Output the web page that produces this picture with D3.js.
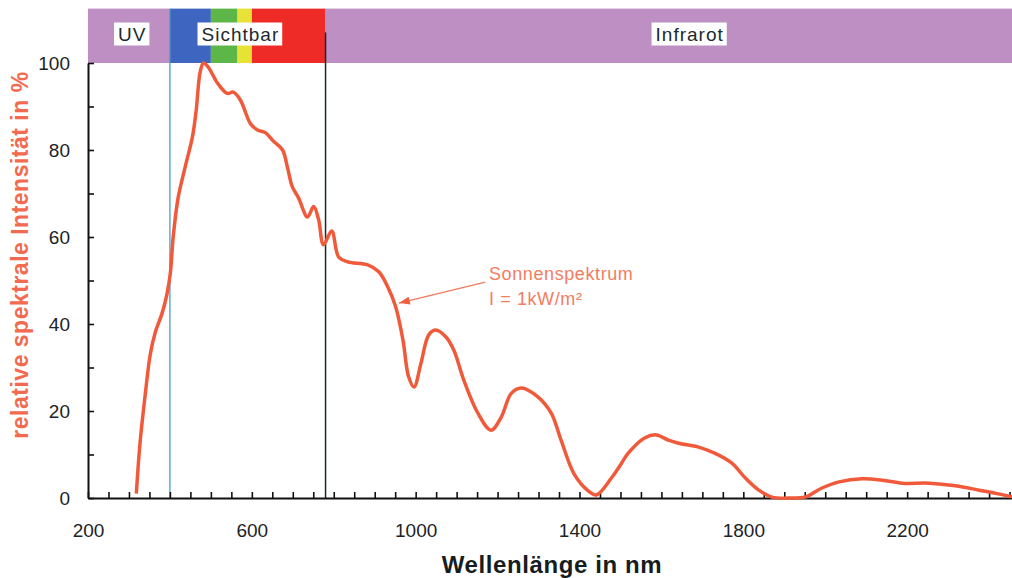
<!DOCTYPE html>
<html>
<head>
<meta charset="utf-8">
<script src="https://cdn.jsdelivr.net/npm/d3@7"></script>
<style>
  body { margin: 0; background: #fff; }
  text { font-family: "Liberation Sans", Arial, sans-serif; }
</style>
</head>
<body>
<div id="chart"></div>
<script>
// Sonnenspektrum
const wavelength = [318,327,340,352,364,381,393,401,408,420,437,455,464,474,482,494,516,540,555,572,
  597,614,633,653,675,687,699,714,736,751,763,775,795,812,834,883,910,932,951,969,
  983,996,1013,1032,1049,1074,1093,1118,1152,1184,1209,1233,1258,1299,1331,1355,1387,1422,1441,1478,
  1500,1519,1559,1588,1617,1642,1691,1730,1772,1803,1838,1870,1918,1950,1992,2034,2090,2139,2188,2254,
  2318,2376,2415,2456];
const intensity = [1,12.6,24,33,38,42.5,47,51.7,60,69,76,83,89,98,100,99,95.4,93,93.3,91.5,
  86,84.6,84,82,80,76,71.5,69,64.6,67,64,58.2,61.4,55.4,54.3,53.6,52,48.5,44,36.3,
  27.8,25.5,31,37.5,38.6,37,34,27,19.5,15.6,18.6,24,25.3,23.2,19.5,13.3,5.5,1.6,0.7,4.6,
  7.6,10.3,13.8,14.5,13.3,12.6,11.7,10.3,8,4.8,1.8,0.2,0,0.2,2.3,3.7,4.4,4.1,3.4,3.4,
  2.8,1.8,1.1,0.3];

const bandEdges = [200, 400, 500, 565, 600, 780, 2456];
const bandColors = ['#bd8fc3', '#3e66c0', '#5cb748', '#e6e236', '#ee2b27', '#bd8fc3'];
const regionLabels = ['UV', 'Sichtbar', 'Infrarot'];
const regionLabelAt = [308, 572, 1669];
const xTickLabels = [200, 600, 1000, 1400, 1800, 2200];
const yTickLabels = [0, 20, 40, 60, 80, 100];
const annotation = ['Sonnenspektrum', 'I = 1kW/m²'];

const w = 1012;
const h = 578;

const x = d3.scaleLinear().domain([200, 2456]).range([88, 1012]);
const y = d3.scaleLinear().domain([0, 100]).range([498, 63]);
const bandTop = 112.5;

const svg = d3.select('#chart')
  .append('svg')
  .attr('width', w)
  .attr('height', h);

// Farbband oben
svg.selectAll('rect.band')
  .data(bandColors)
  .enter()
  .append('rect')
  .attr('class', 'band')
  .attr('x', (d, i) => x(bandEdges[i]))
  .attr('y', y(bandTop))
  .attr('width', (d, i) => x(bandEdges[i + 1]) - x(bandEdges[i]))
  .attr('height', y(100) - y(bandTop))
  .attr('fill', d => d);

// Beschriftungen im Band
const lab = svg.selectAll('g.rlab')
  .data(regionLabels)
  .enter()
  .append('g')
  .attr('class', 'rlab')
  .attr('transform', (d, i) => `translate(${x(regionLabelAt[i])},${y(106.7)})`);

lab.append('text')
  .attr('text-anchor', 'middle')
  .attr('dy', '0.35em')
  .attr('font-size', 19)
  .attr('letter-spacing', 1)
  .attr('fill', '#1c2b2d')
  .text(d => d);

lab.each(function() {
  const g = d3.select(this);
  const bb = g.select('text').node().getBBox();
  g.insert('rect', 'text')
    .attr('x', bb.x - 4)
    .attr('y', bb.y - 1)
    .attr('width', bb.width + 7)
    .attr('height', bb.height + 2)
    .attr('fill', '#fff');
});

// Grenzlinien sichtbarer Bereich
svg.append('line')
  .attr('x1', x(400)).attr('x2', x(400))
  .attr('y1', y(bandTop)).attr('y2', y(0))
  .attr('stroke', '#4b9cc8')
  .attr('stroke-width', 1.3);

svg.append('line')
  .attr('x1', x(780)).attr('x2', x(780))
  .attr('y1', y(107)).attr('y2', y(0))
  .attr('stroke', '#1b2a2c')
  .attr('stroke-width', 1.5);

// Achsen
const xMinor = d3.axisBottom(x)
  .tickValues(d3.range(200, 2456, 50))
  .tickSizeInner(-6)
  .tickSizeOuter(0)
  .tickFormat('');

const gx = svg.append('g')
  .attr('transform', `translate(0,${y(0)})`)
  .call(xMinor);
gx.select('.domain').attr('stroke', '#111').attr('stroke-width', 2);
gx.selectAll('.tick line').attr('stroke', '#111').attr('stroke-width', 1.6);

const xLab = d3.axisBottom(x)
  .tickValues(xTickLabels)
  .tickSize(0)
  .tickPadding(26)
  .tickFormat(d3.format('d'));

const gxl = svg.append('g')
  .attr('transform', `translate(0,${y(0)})`)
  .call(xLab);
gxl.select('.domain').remove();
gxl.selectAll('text')
  .attr('font-size', 19)
  .attr('font-family', '"Liberation Sans", Arial, sans-serif')
  .attr('fill', '#1c2326');

const yMinor = d3.axisLeft(y)
  .tickValues(d3.range(0, 101, 10))
  .tickSizeInner(-6)
  .tickSizeOuter(0)
  .tickFormat('');

const gy = svg.append('g')
  .attr('transform', `translate(${x(200)},0)`)
  .call(yMinor);
gy.select('.domain').attr('stroke', '#111').attr('stroke-width', 2);
gy.selectAll('.tick line').attr('stroke', '#111').attr('stroke-width', 1.6);

const yLab = d3.axisLeft(y)
  .tickValues(yTickLabels)
  .tickSize(0)
  .tickPadding(18);

const gyl = svg.append('g')
  .attr('transform', `translate(${x(200)},0)`)
  .call(yLab);
gyl.select('.domain').remove();
gyl.selectAll('text')
  .attr('font-size', 19)
  .attr('font-family', '"Liberation Sans", Arial, sans-serif')
  .attr('fill', '#1c2326');

// Spektrum
const pts = wavelength.map((d, i) => [d, intensity[i]]);
const line = d3.line()
  .x(d => x(d[0]))
  .y(d => y(d[1]))
  .curve(d3.curveCatmullRom.alpha(0.5));

svg.append('path')
  .datum(pts)
  .attr('d', line)
  .attr('fill', 'none')
  .attr('stroke', '#f05a3a')
  .attr('stroke-width', 3.5)
  .attr('stroke-linejoin', 'round');

// Annotation mit Pfeil
const ax0 = x(1170), ay0 = y(49.6);
const ax1 = x(959), ay1 = y(44.8);
const ang = Math.atan2(ay1 - ay0, ax1 - ax0);
svg.append('line')
  .attr('x1', ax0).attr('y1', ay0)
  .attr('x2', ax1).attr('y2', ay1)
  .attr('stroke', '#f27a5e')
  .attr('stroke-width', 1.3);
const hl = 11, hw = 4;
svg.append('path')
  .attr('d', `M${ax1},${ay1}` +
    `L${ax1 - hl * Math.cos(ang) + hw * Math.sin(ang)},${ay1 - hl * Math.sin(ang) - hw * Math.cos(ang)}` +
    `L${ax1 - hl * Math.cos(ang) - hw * Math.sin(ang)},${ay1 - hl * Math.sin(ang) + hw * Math.cos(ang)}Z`)
  .attr('fill', '#f0603f');

svg.selectAll('text.ann')
  .data(annotation)
  .enter()
  .append('text')
  .attr('class', 'ann')
  .attr('x', x(1179))
  .attr('y', (d, i) => y(50.1) + i * 25)
  .attr('font-size', 18)
  .attr('letter-spacing', 0.6)
  .attr('fill', '#f37c61')
  .text(d => d);

// Achsentitel
svg.append('text')
  .attr('x', 552)
  .attr('y', 573)
  .attr('text-anchor', 'middle')
  .attr('font-size', 24)
  .attr('font-weight', 'bold')
  .attr('letter-spacing', 0.6)
  .attr('fill', '#161d20')
  .text('Wellenlänge in nm');

svg.append('text')
  .attr('transform', 'translate(28,255) rotate(-90)')
  .attr('text-anchor', 'middle')
  .attr('font-size', 23)
  .attr('font-weight', 'bold')
  .attr('letter-spacing', 0.5)
  .attr('fill', '#f26a4f')
  .text('relative spektrale Intensität in %');
</script>
</body>
</html>
